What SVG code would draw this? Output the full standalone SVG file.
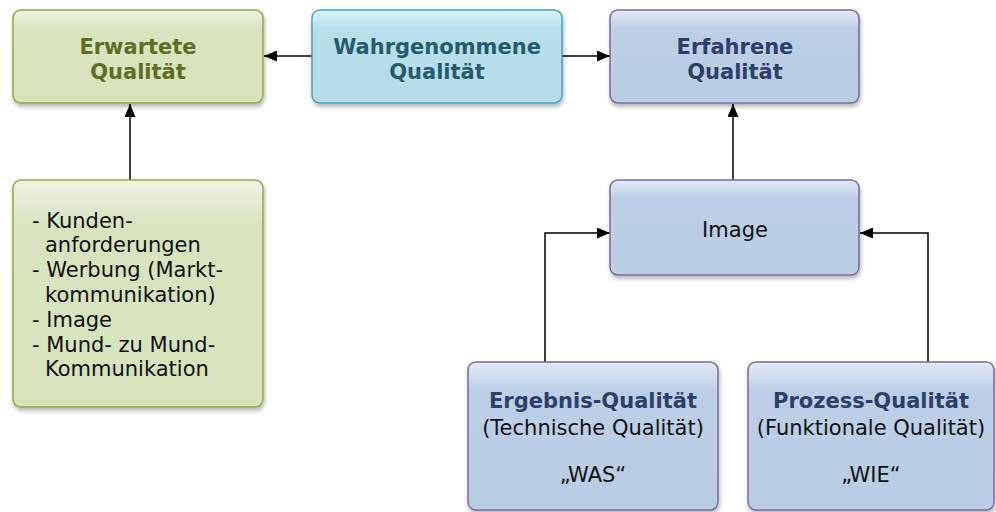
<svg xmlns="http://www.w3.org/2000/svg" width="996" height="512" viewBox="0 0 996 512">
  <defs>
    <linearGradient id="gGreen" x1="0" y1="0" x2="0" y2="1">
      <stop offset="0" stop-color="#eef3e3"/>
      <stop offset="0.2" stop-color="#d8e4bf"/>
      <stop offset="1" stop-color="#d6e3bc"/>
    </linearGradient>
    <linearGradient id="gTeal" x1="0" y1="0" x2="0" y2="1">
      <stop offset="0" stop-color="#dcf0f5"/>
      <stop offset="0.2" stop-color="#b9dfe9"/>
      <stop offset="1" stop-color="#b6dde8"/>
    </linearGradient>
    <linearGradient id="gBlue" x1="0" y1="0" x2="0" y2="1">
      <stop offset="0" stop-color="#e2eaf4"/>
      <stop offset="0.2" stop-color="#bccfe6"/>
      <stop offset="1" stop-color="#b8cce4"/>
    </linearGradient>
    <filter id="shadow" x="-5%" y="-5%" width="110%" height="120%">
      <feGaussianBlur in="SourceAlpha" stdDeviation="2"/>
      <feOffset dx="1" dy="3" result="b"/>
      <feComponentTransfer><feFuncA type="linear" slope="0.3"/></feComponentTransfer>
      <feMerge><feMergeNode/><feMergeNode in="SourceGraphic"/></feMerge>
    </filter>
    <marker id="arrow" viewBox="0 0 13 11" refX="13" refY="5.5" markerWidth="13" markerHeight="11" markerUnits="userSpaceOnUse" orient="auto">
      <path d="M0,0 L13,5.5 L0,11 Z" fill="#000"/>
    </marker>
    <style>
      .green { fill: url(#gGreen); stroke: #8aab4a; stroke-width: 1.5; filter: url(#shadow); }
      .teal { fill: url(#gTeal); stroke: #4aa3bd; stroke-width: 1.5; filter: url(#shadow); }
      .blue { fill: url(#gBlue); stroke: #7b6a9e; stroke-width: 1.5; filter: url(#shadow); }
      text { font-family: "DejaVu Sans", Verdana, sans-serif; font-size: 21px; }
      .title { font-weight: bold; text-anchor: middle; }
      .tGreen { fill: #5f6f22; }
      .tTeal { fill: #245c6e; }
      .tBlue { fill: #2d3f6a; }
      .body { fill: #111; }
      .mid { text-anchor: middle; }
      .conn { fill: none; stroke: #000; stroke-width: 1.5; marker-end: url(#arrow); }
    </style>
  </defs>

  <g id="connectors">
    <line class="conn" x1="312" y1="56" x2="264" y2="56"/>
    <line class="conn" x1="562" y1="56" x2="610" y2="56"/>
    <line class="conn" x1="130" y1="180" x2="130" y2="104"/>
    <line class="conn" x1="733" y1="180" x2="733" y2="104"/>
    <polyline class="conn" points="545,362 545,233 610,233"/>
    <polyline class="conn" points="928,362 928,233 860,233"/>
  </g>

  <g id="erwartete">
    <rect class="green" x="13" y="10" width="250" height="93" rx="8"/>
    <text class="title tGreen" x="138" y="54">Erwartete</text>
    <text class="title tGreen" x="138" y="79">Qualität</text>
  </g>

  <g id="wahrgenommene">
    <rect class="teal" x="312" y="10" width="250" height="93" rx="8"/>
    <text class="title tTeal" x="437" y="54">Wahrgenommene</text>
    <text class="title tTeal" x="437" y="79">Qualität</text>
  </g>

  <g id="erfahrene">
    <rect class="blue" x="610" y="10" width="249" height="93" rx="8"/>
    <text class="title tBlue" x="735" y="54">Erfahrene</text>
    <text class="title tBlue" x="735" y="79">Qualität</text>
  </g>

  <g id="faktoren">
    <rect class="green" x="13" y="180" width="250" height="227" rx="8"/>
    <text class="body" x="32" y="228">- Kunden-</text>
    <text class="body" x="45" y="252">anforderungen</text>
    <text class="body" x="32" y="277">-  Werbung (Markt-</text>
    <text class="body" x="45" y="302">kommunikation)</text>
    <text class="body" x="32" y="327">- Image</text>
    <text class="body" x="32" y="352">- Mund- zu Mund-</text>
    <text class="body" x="45" y="376">Kommunikation</text>
  </g>

  <g id="image">
    <rect class="blue" x="610" y="180" width="249" height="95" rx="8"/>
    <text class="body mid" x="735" y="237">Image</text>
  </g>

  <g id="ergebnis">
    <rect class="blue" x="468" y="362" width="250" height="148" rx="8"/>
    <text class="title tBlue" x="593" y="408">Ergebnis-Qualität</text>
    <text class="body mid" x="593" y="435">(Technische Qualität)</text>
    <text class="body mid" x="593" y="482">„WAS“</text>
  </g>

  <g id="prozess">
    <rect class="blue" x="748" y="362" width="246" height="148" rx="8"/>
    <text class="title tBlue" x="871" y="408">Prozess-Qualität</text>
    <text class="body mid" x="871" y="435">(Funktionale Qualität)</text>
    <text class="body mid" x="871" y="482">„WIE“</text>
  </g>
</svg>
